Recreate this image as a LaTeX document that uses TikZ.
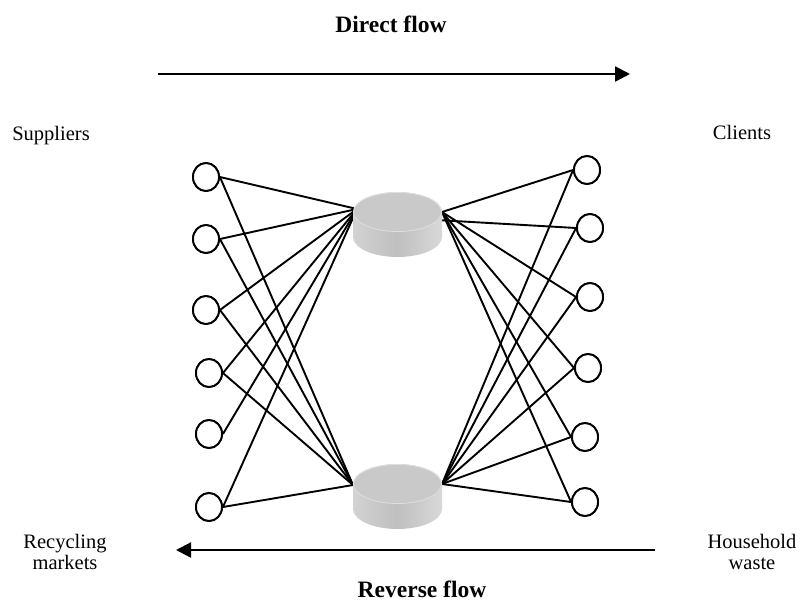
\documentclass[tikz,border=0pt]{standalone}
\usepackage{fontspec}
\setmainfont{Liberation Serif}
\usetikzlibrary{shapes.geometric,arrows.meta}

\tikzset{
  site/.style={ellipse, draw=black, line width=1.9pt, fill=white,
               minimum width=26pt, minimum height=28pt, inner sep=0pt},
  link/.style={line width=1.9pt, black},
  flowarrow/.style={line width=2.2pt, -{Triangle[length=15pt,width=15pt]}},
  lbl/.style={font=\fontsize{20.5}{21.5}\selectfont, inner sep=0pt, align=center},
  title/.style={font=\fontsize{23.5}{26}\selectfont\bfseries, inner sep=0pt, anchor=base},
}

% a grey depot drawn as a short cylinder; #1 = centre of the top face
\newcommand{\depot}[1]{%
  \begin{scope}[shift={#1}]
    \shade[left color=gray!35, right color=gray!30, middle color=gray!50]
      (-44.5,0) -- (-44.5,25) arc[start angle=180, end angle=0, x radius=44.5, y radius=20]
      -- (44.5,0) -- cycle;
    \fill[gray!42] (0,0) ellipse[x radius=44.5, y radius=20];
    \draw[gray!25, line width=0.8pt] (0,0) ellipse[x radius=44, y radius=19.5];
  \end{scope}}

\begin{document}
\begin{tikzpicture}[x=1pt, y=-1pt]
  \useasboundingbox (0,0) rectangle (800,603);

  % suppliers (left) and clients (right)
  \node[site] (s1) at (206,177) {};
  \node[site] (s2) at (206,239) {};
  \node[site] (s3) at (206,310) {};
  \node[site] (s4) at (209,373) {};
  \node[site] (s5) at (209,434) {};
  \node[site] (s6) at (209,507) {};

  \node[site] (c1) at (587,170) {};
  \node[site] (c2) at (590,228) {};
  \node[site] (c3) at (590,297) {};
  \node[site] (c4) at (588,368) {};
  \node[site] (c5) at (585,437) {};
  \node[site] (c6) at (585,502) {};

  % attachment points on the two depots
  \coordinate (tl)  at (357,209);
  \coordinate (tr)  at (442,212);
  \coordinate (tr2) at (437,220);
  \coordinate (bl)  at (353,485);
  \coordinate (br)  at (442,484);

  % supplier links
  \foreach \s in {s1,s2,s3,s4,s5,s6} \draw[link] (\s.east) -- (tl);
  \foreach \s in {s1,s2,s3,s4,s6} \draw[link] (\s.east) -- (bl);

  % client links
  \draw[link] (tr) -- (c1.west);
  \draw[link] (tr2) -- (c2.west);
  \foreach \c in {c3,c4,c5,c6} \draw[link] (tr) -- (\c.west);
  \foreach \c in {c1,c2,c3,c4,c5,c6} \draw[link] (br) -- (\c.west);

  % redraw the sites over the line ends
  \foreach \p in {(206,177),(206,239),(206,310),(209,373),(209,434),(209,507),
                  (587,170),(590,228),(590,297),(588,368),(585,437),(585,502)}
    \node[site] at \p {};

  % depots
  \depot{(397.5,212)}
  \depot{(397.5,484)}

  % flows
  \coordinate (df1) at (158,74);
  \coordinate (df2) at (630,74);
  \draw[flowarrow] (df1) -- (df2);
  \coordinate (rf1) at (655,550);
  \coordinate (rf2) at (176,550);
  \draw[flowarrow] (rf1) -- (rf2);

  % labels
  \node[title] (tdir) at (391,32) {Direct flow};
  \node[title] (trev) at (422,597) {Reverse flow};
  \node[lbl, anchor=base] (lsup) at (51,140) {Suppliers};
  \node[lbl, anchor=base] (lcli) at (742,139) {Clients};
  \node[lbl] (lrec) at (65,552) {Recycling\\markets};
  \node[lbl] (lhou) at (752,552) {Household\\waste};
\end{tikzpicture}
\end{document}
